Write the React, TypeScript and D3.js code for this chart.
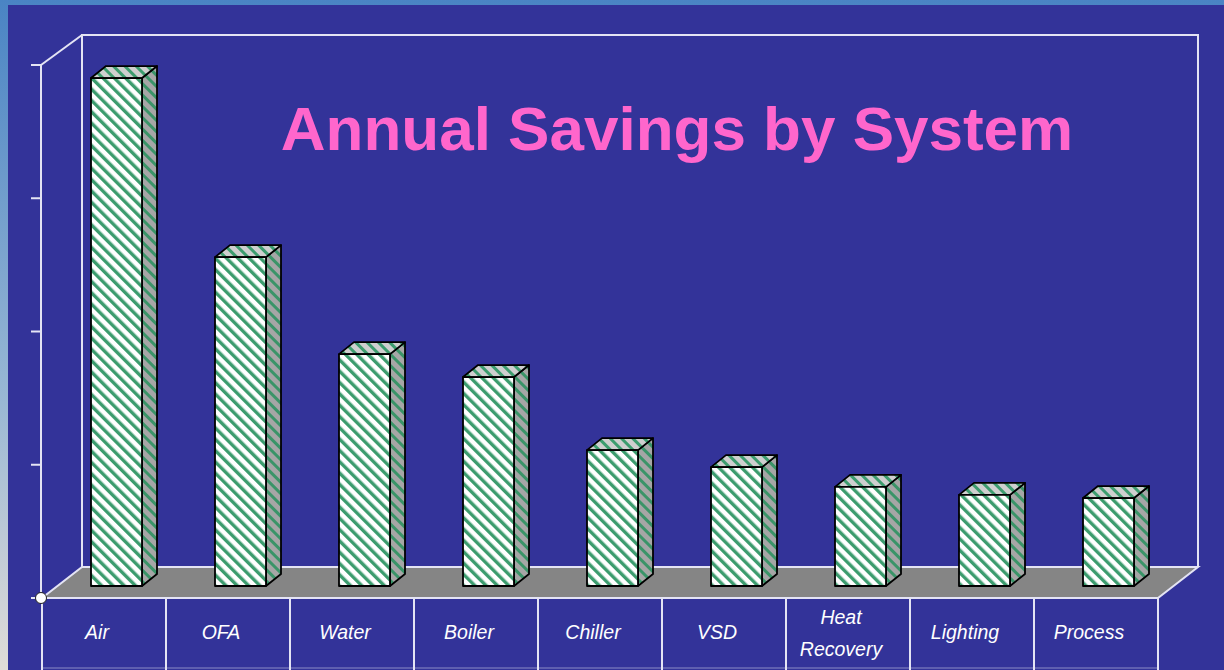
import * as d3 from 'd3';

const categories = ['Air', 'OFA', 'Water', 'Boiler', 'Chiller', 'VSD', 'Heat Recovery', 'Lighting', 'Process'];
const savings = [95.3, 61.7, 43.5, 39.2, 25.5, 22.3, 18.6, 17.1, 16.5];
const axisTicks = [0, 25, 50, 75, 100];
const title = 'Annual Savings by System';

const W = 1224;
const H = 670;

export default function App() {
  // floor / wall geometry
  const frontY = 598;
  const depthX = 40;
  const depthY = 31;
  const left = 42;
  const right = 1158;

  const x = d3.scaleBand<string>().domain(categories).range([left, right]);
  const axisY = d3.scaleLinear().domain([0, 100]).range([frontY, 65]);
  const barBase = 586;
  const barY = d3.scaleLinear().domain([0, 100]).range([barBase, 53]);

  const barW = 51;
  const bdx = 15;
  const bdy = 12;
  const line = '#e4e4f4';

  const floor = [
    [left, frontY],
    [right, frontY],
    [right + depthX, frontY - depthY],
    [left + depthX, frontY - depthY],
  ];

  return (
    <svg width={W} height={H} style={{ position: 'fixed', left: 0, top: 0 }}
      fontFamily="'Liberation Sans', Arial, sans-serif">
      <defs>
        <linearGradient id="sky" x1="0" y1="0" x2="0" y2="1">
          <stop offset="0" stopColor="#4a84c4" />
          <stop offset="0.6" stopColor="#9ab8d4" />
          <stop offset="1" stopColor="#e0dcd8" />
        </linearGradient>
        <pattern id="hFront" width="8" height="8" patternUnits="userSpaceOnUse" patternTransform="rotate(-45)">
          <rect width="8" height="8" fill="#ffffff" />
          <rect width="3.4" height="8" fill="#3c9c6e" />
        </pattern>
        <pattern id="hSide" width="8" height="8" patternUnits="userSpaceOnUse" patternTransform="rotate(-45)">
          <rect width="8" height="8" fill="#a6a6a6" />
          <rect width="3" height="8" fill="#3a9468" />
        </pattern>
        <pattern id="hTop" width="8" height="8" patternUnits="userSpaceOnUse" patternTransform="rotate(-45)">
          <rect width="8" height="8" fill="#cfcfcf" />
          <rect width="3" height="8" fill="#3c9c6e" />
        </pattern>
      </defs>

      {/* backdrop */}
      <rect x={0} y={0} width={W} height={H} fill="url(#sky)" />
      <rect x={8} y={5} width={W - 8} height={H - 5} fill="#333399" />

      {/* back wall */}
      <path d={`M${left + depthX},${frontY - depthY}V35H${right + depthX}V${frontY - depthY}`}
        fill="none" stroke={line} strokeWidth={2} />
      <line x1={41} y1={65} x2={left + depthX} y2={35} stroke={line} strokeWidth={2} />

      {/* floor */}
      <polygon points={floor.map(p => p.join(',')).join(' ')} fill="#858585" stroke={line} strokeWidth={2} />

      {/* axis */}
      <line x1={41} y1={axisY(0)} x2={41} y2={axisY(100)} stroke={line} strokeWidth={2} />
      {axisTicks.map(t => (
        <line key={t} x1={31} x2={41} y1={axisY(t)} y2={axisY(t)} stroke={line} strokeWidth={2} />
      ))}

      {/* bars */}
      {categories.map((c, i) => {
        const x0 = (x(c) as number) + 49;
        const top = barY(savings[i]);
        const x1 = x0 + barW;
        return (
          <g key={c} stroke="#000" strokeWidth={1.8} strokeLinejoin="round">
            <polygon points={`${x1},${top} ${x1 + bdx},${top - bdy} ${x1 + bdx},${barBase - bdy} ${x1},${barBase}`}
              fill="url(#hSide)" />
            <polygon points={`${x0},${top} ${x0 + bdx},${top - bdy} ${x1 + bdx},${top - bdy} ${x1},${top}`}
              fill="url(#hTop)" />
            <rect x={x0} y={top} width={barW} height={barBase - top} fill="url(#hFront)" />
          </g>
        );
      })}

      {/* category table */}
      <line x1={left} x2={right} y1={frontY} y2={frontY} stroke={line} strokeWidth={2} />
      <line x1={left} x2={right} y1={668} y2={668} stroke={line} strokeWidth={1} opacity={0.5} />
      {categories.map(c => (
        <line key={c} x1={x(c)} x2={x(c)} y1={frontY} y2={H} stroke={line} strokeWidth={2} />
      ))}
      <line x1={right} x2={right} y1={frontY} y2={H} stroke={line} strokeWidth={2} />
      {categories.map(c => {
        const parts = c.split(' ');
        const cx = (x(c) as number) + x.bandwidth() / 2 - 7;
        const y0 = parts.length > 1 ? 624 : 639;
        return (
          <text key={c} x={cx} y={y0} textAnchor="middle" fill="#ffffff" fontSize={19.5} fontStyle="italic">
            {parts.map((p, k) => (
              <tspan key={k} x={cx} y={y0 + k * 32}>{p}</tspan>
            ))}
          </text>
        );
      })}
      <circle cx={41} cy={frontY} r={5.5} fill="#ffffff" stroke="#222" strokeWidth={1} />

      {/* title */}
      <text x={677} y={150} textAnchor="middle" fill="#ff66cc" fontSize={62} fontWeight="bold">
        {title}
      </text>
    </svg>
  );
}
